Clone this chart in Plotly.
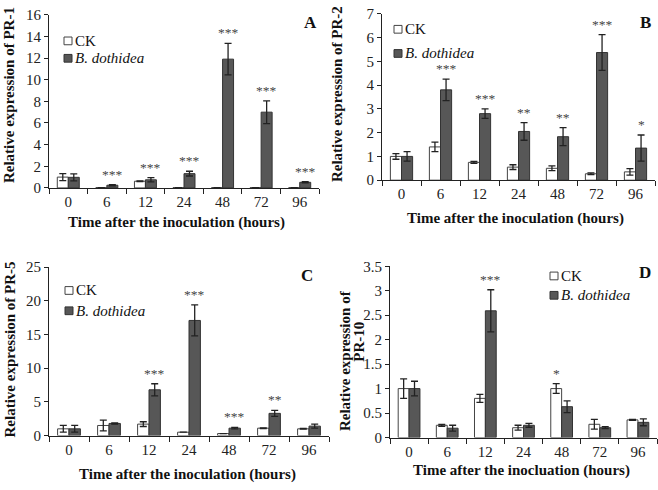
import plotly.graph_objects as go

W, H = 658, 490

hours = ["0", "6", "12", "24", "48", "72", "96"]

# Panel A: PR-1
pr1_ck = [1.0, 0.03, 0.62, 0.03, 0.03, 0.03, 0.03]
pr1_ck_err = [0.32, 0.0, 0.03, 0.0, 0.0, 0.0, 0.0]
pr1_bd = [0.98, 0.25, 0.75, 1.32, 11.9, 7.0, 0.52]
pr1_bd_err = [0.32, 0.06, 0.2, 0.22, 1.45, 1.05, 0.06]
pr1_sig = ["", "***", "***", "***", "***", "***", "***"]

# Panel B: PR-2
pr2_ck = [1.0, 1.4, 0.75, 0.55, 0.5, 0.27, 0.35]
pr2_ck_err = [0.12, 0.2, 0.04, 0.1, 0.1, 0.04, 0.14]
pr2_bd = [1.0, 3.8, 2.8, 2.05, 1.83, 5.37, 1.35]
pr2_bd_err = [0.2, 0.45, 0.2, 0.37, 0.38, 0.75, 0.55]
pr2_sig = ["", "***", "***", "**", "**", "***", "*"]

# Panel C: PR-5
pr5_ck = [1.0, 1.5, 1.7, 0.5, 0.3, 1.1, 1.0]
pr5_ck_err = [0.5, 0.8, 0.35, 0.0, 0.0, 0.05, 0.05]
pr5_bd = [1.0, 1.8, 6.8, 17.1, 1.1, 3.3, 1.4]
pr5_bd_err = [0.5, 0.1, 0.9, 2.3, 0.12, 0.45, 0.3]
pr5_sig = ["", "", "***", "***", "***", "**", ""]

# Panel D: PR-10
pr10_ck = [1.0, 0.25, 0.8, 0.2, 1.0, 0.27, 0.36]
pr10_ck_err = [0.2, 0.02, 0.08, 0.05, 0.1, 0.1, 0.01]
pr10_bd = [1.0, 0.19, 2.59, 0.25, 0.63, 0.2, 0.31]
pr10_bd_err = [0.15, 0.06, 0.43, 0.04, 0.12, 0.02, 0.07]
pr10_sig = ["", "", "***", "", "*", "", ""]

FONT = "Liberation Serif, Times New Roman, serif"
AX = "#222222"
BD_FILL = "#575757"
BD_LINE = "#333333"
CK_LINE = "#444444"


def fx(p):
    return p / W


def fy(p):
    return 1 - p / H


panels = [
    dict(ck=pr1_ck, cke=pr1_ck_err, bd=pr1_bd, bde=pr1_bd_err, sig=pr1_sig,
         ymax=16, dtick=2, xd=(49, 319), yd=(7, 186), letter="A", lpos=(310, 15),
         leg=(64, 34, 52), ytitle=["Relative expression of PR-1"], ytpos=[(9, 90)],
         xtitle="Time after the inoculation (hours)", xtpos=(176, 222)),
    dict(ck=pr2_ck, cke=pr2_ck_err, bd=pr2_bd, bde=pr2_bd_err, sig=pr2_sig,
         ymax=7, dtick=1, xd=(382, 655), yd=(6, 178), letter="B", lpos=(645, 15),
         leg=(394, 22, 47), ytitle=["Relative expression of PR-2"], ytpos=[(337, 89)],
         xtitle="Time after the inoculation (hours)", xtpos=(515, 218)),
    dict(ck=pr5_ck, cke=pr5_ck_err, bd=pr5_bd, bde=pr5_bd_err, sig=pr5_sig,
         ymax=25, dtick=5, xd=(49, 329), yd=(268, 442), letter="C", lpos=(307, 277),
         leg=(65, 292, 313), ytitle=["Relative expression of PR-5"], ytpos=[(10, 353)],
         xtitle="Time after the inoculation (hours)", xtpos=(187, 482)),
    dict(ck=pr10_ck, cke=pr10_ck_err, bd=pr10_bd, bde=pr10_bd_err, sig=pr10_sig,
         ymax=3.5, dtick=0.5, xd=(390, 657), yd=(267, 444), letter="D", lpos=(645, 273),
         leg=(550, 277, 297), ytitle=["Relative expression of", "PR-10"],
         ytpos=[(345, 365), (359, 345)],
         xtitle="Time after the inocluation (hours)", xtpos=(521, 478)),
]

fig = go.Figure()
annotations = []
shapes = []


def paper_text(x, y, text, size, xanchor="center", angle=0, color="#111111"):
    return dict(x=fx(x), y=fy(y), xref="paper", yref="paper", text=text,
                showarrow=False, xanchor=xanchor, yanchor="middle", textangle=angle,
                font=dict(family=FONT, size=size, color=color))


for i, p in enumerate(panels, start=1):
    xa = "x" if i == 1 else f"x{i}"
    ya = "y" if i == 1 else f"y{i}"
    fig.add_trace(go.Bar(
        x=hours, y=p["ck"], name="CK", xaxis=xa, yaxis=ya, showlegend=False,
        marker=dict(color="white", line=dict(color=CK_LINE, width=1)),
        error_y=dict(type="data", array=p["cke"], color=AX, thickness=1.3, width=3.5),
    ))
    fig.add_trace(go.Bar(
        x=hours, y=p["bd"], name="B. dothidea", xaxis=xa, yaxis=ya, showlegend=False,
        marker=dict(color=BD_FILL, line=dict(color=BD_LINE, width=1)),
        error_y=dict(type="data", array=p["bde"], color=AX, thickness=1.3, width=3.5),
    ))
    xkey = "xaxis" if i == 1 else f"xaxis{i}"
    ykey = "yaxis" if i == 1 else f"yaxis{i}"
    fig.update_layout({
        xkey: dict(domain=[fx(p["xd"][0]), fx(p["xd"][1])], anchor=ya, type="category",
                   categoryorder="array", categoryarray=hours,
                   range=[-0.5, len(hours) - 0.5],
                   showline=True, linecolor=AX, linewidth=1, ticks="outside",
                   tickson="boundaries", ticklen=5, tickcolor=AX, showgrid=False,
                   zeroline=False, tickfont=dict(family=FONT, size=15, color=AX)),
        ykey: dict(domain=[fy(p["yd"][1]), fy(p["yd"][0])], anchor=xa,
                   range=[0, p["ymax"]], dtick=p["dtick"], showline=True, linecolor=AX,
                   linewidth=1, ticks="outside", ticklen=4, tickcolor=AX, showgrid=False,
                   zeroline=False, tickfont=dict(family=FONT, size=15, color=AX)),
    })
    # significance marks above the taller bar (x given as category index)
    for j, (c, ce, b, be, s) in enumerate(zip(p["ck"], p["cke"], p["bd"], p["bde"], p["sig"])):
        if not s:
            continue
        if c + ce > b + be:
            top, shift = c + ce, -5.5
        else:
            top, shift = b + be, 5.5
        annotations.append(dict(x=j, y=top, xref=xa, yref=ya, text=s, showarrow=False,
                                xshift=shift, yshift=1, yanchor="bottom", xanchor="center",
                                font=dict(family=FONT, size=13.5, color="#444444")))
    annotations.append(paper_text(*p["lpos"], f"<b>{p['letter']}</b>", 17))
    for t, (tx, ty) in zip(p["ytitle"], p["ytpos"]):
        annotations.append(paper_text(tx, ty, f"<b>{t}</b>", 15, angle=-90))
    annotations.append(paper_text(*p["xtpos"], f"<b>{p['xtitle']}</b>", 15))
    # legend
    lx, ly1, ly2 = p["leg"]
    for ly, fill, line, label in [(ly1, "white", CK_LINE, "CK"),
                                  (ly2, BD_FILL, BD_LINE, "<i>B. dothidea</i>")]:
        shapes.append(dict(type="rect", xref="paper", yref="paper",
                           x0=fx(lx), x1=fx(lx + 8), y0=fy(ly + 4), y1=fy(ly - 4),
                           fillcolor=fill, line=dict(color=line, width=1)))
        annotations.append(paper_text(lx + 9, ly, label, 15, xanchor="left"))

fig.update_layout(
    width=W, height=H, margin=dict(l=0, r=0, t=0, b=0),
    paper_bgcolor="white", plot_bgcolor="white",
    barmode="group", bargap=0.43, bargroupgap=0,
    showlegend=False, annotations=annotations, shapes=shapes,
)

fig.write_html("out.html", config={"displayModeBar": False},
               post_script="document.body.style.margin='0px';"
                           "document.body.style.overflow='hidden';")
